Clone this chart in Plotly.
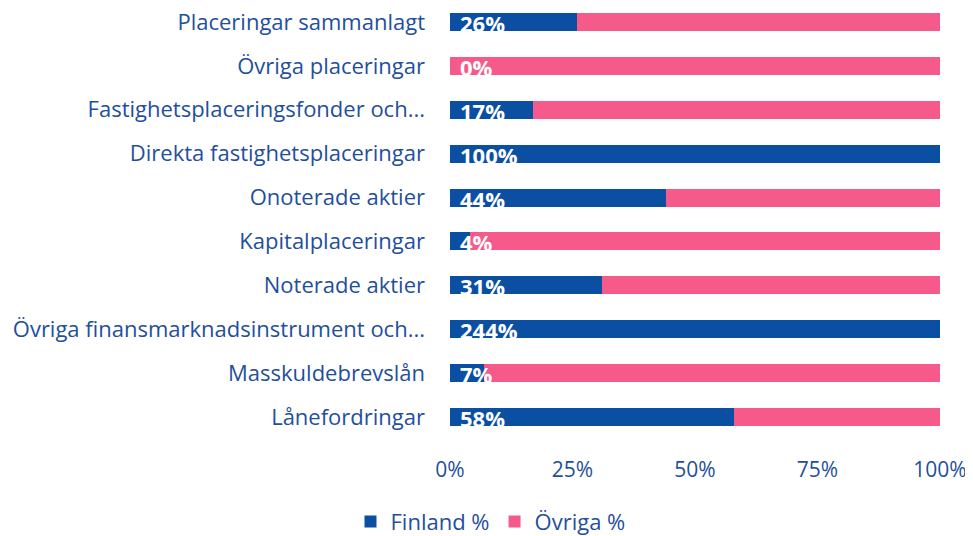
import plotly.graph_objects as go

categories = ["Placeringar sammanlagt", "Övriga placeringar", "Fastighetsplaceringsfonder och...",
              "Direkta fastighetsplaceringar", "Onoterade aktier", "Kapitalplaceringar",
              "Noterade aktier", "Övriga finansmarknadsinstrument och...", "Masskuldebrevslån",
              "Lånefordringar"]
finland_share = [26, 0, 17, 100, 44, 4, 31, 100, 7, 58]
ovriga_share = [74, 100, 83, 0, 56, 96, 69, 0, 93, 42]
finland_labels = ["26%", "0%", "17%", "100%", "44%", "4%", "31%", "244%", "7%", "58%"]
tick_vals = [0, 25, 50, 75, 100]
tick_text = ["0%", "25%", "50%", "75%", "100%"]

blue = "#0b4fa3"
pink = "#f55a8b"
txt = "#1f4f9c"
font = "Open Sans"

fig = go.Figure()
fig.add_trace(go.Bar(y=categories, x=finland_share, orientation="h", name="Finland %",
                     marker=dict(color=blue, line=dict(width=0))))
fig.add_trace(go.Bar(y=categories, x=ovriga_share, orientation="h", name="Övriga %",
                     marker=dict(color=pink, line=dict(width=0))))

for c, lab in zip(categories, finland_labels):
    fig.add_annotation(x=0, y=c, text="<b>" + lab + "</b>", showarrow=False, xanchor="left",
                       xshift=8, yshift=-1, font=dict(color="white", size=22, family=font))

fig.update_layout(
    barmode="stack", bargap=0.59,
    width=965, height=528,
    margin=dict(l=442, r=33, t=0, b=97),
    plot_bgcolor="white", paper_bgcolor="white",
    font=dict(family=font, color=txt, size=22),
    xaxis=dict(range=[0, 100], tickvals=tick_vals, ticktext=tick_text, showgrid=False,
               zeroline=False, showline=False, ticks="", ticklabelstandoff=16,
               tickfont=dict(size=21, color=txt)),
    yaxis=dict(range=[9.5, -0.318], showgrid=False, ticks="", ticklabelstandoff=24,
               automargin=False, tickfont=dict(size=22, color=txt)),
    legend=dict(orientation="h", x=0.5, xanchor="center", xref="container",
                y=0.027, yanchor="middle", yref="container",
                font=dict(size=22, color=txt), itemwidth=30, traceorder="normal"),
)

fig.write_html("out.html")
